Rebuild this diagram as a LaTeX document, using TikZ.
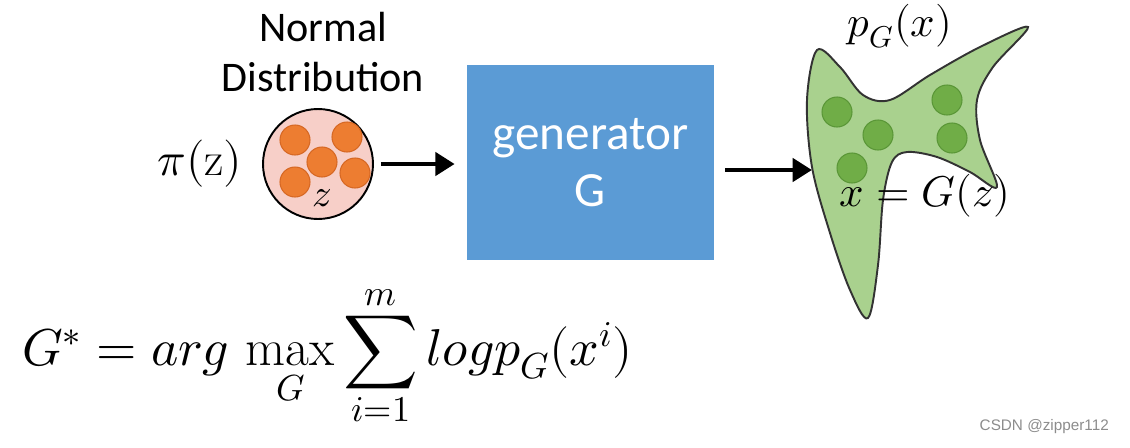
\documentclass[tikz,border=0pt]{standalone}
\usepackage{fontspec}
\usepackage{unicode-math}
\setmathfont{Latin Modern Math}
\newfontfamily\calib{Carlito}
\newfontfamily\wmfont{Liberation Sans}
\usetikzlibrary{arrows.meta}

\definecolor{pinkfill}{RGB}{247,207,200}
\definecolor{dotorange}{RGB}{237,125,49}
\definecolor{dotorangeedge}{RGB}{214,104,36}
\definecolor{genblue}{RGB}{91,155,213}
\definecolor{blobgreen}{RGB}{169,209,142}
\definecolor{dotgreen}{RGB}{112,173,71}
\definecolor{dotgreenedge}{RGB}{90,150,55}

\tikzset{
  bigarrow/.style={line width=2.8pt, -{Triangle[length=11pt,width=13pt]}},
  sanslabel/.style={font=\calib\fontsize{24}{28.5}\selectfont, align=center},
  mathlabel/.style={font=\fontsize{24.5}{28}\selectfont},
}

\begin{document}
\begin{tikzpicture}[x=0.02cm,y=-0.02cm]

		\useasboundingbox (0,0) rectangle (1130,447);

		% Noise source
		\node[sanslabel] (normal) at (323,52) {Normal\\Distribution};
		\node[circle, draw, line width=1.1pt, fill=pinkfill, minimum size=2.2cm] (noise) at (318,164) {};
		\foreach \x/\y in {295/140, 347/137, 322/162, 295/182, 355/173}
		  \draw[fill=dotorange, draw=dotorangeedge, line width=0.6pt] (\x,\y) circle (15);
		\node[font=\fontsize{22}{26}\selectfont] (zlabel) at (322,198) {$z$};
		\node[font=\fontsize{27}{30}\selectfont] (prior) at (200,164) {$\pi(\mathrm{z})$};

		% Generator
		\node[fill=genblue, minimum width=4.94cm, minimum height=3.9cm, text=white,
		      font=\calib\fontsize{28}{32.5}\selectfont, align=center] (gen) at (590.5,162.5) {generator\\G};

		% Output distribution
		\draw[fill=blobgreen, line width=1.1pt, draw=black!80]
		plot[smooth cycle, tension=0.55] coordinates {
		(817,50)
		(840,67)
		(863,95)
		(890,100)
		(930,75)
		(980,47)
		(1028,27)
		(993,67)
		(977,100)
		(980,140)
		(997,187)
		(970,172)
		(937,157)
		(907,152)
		(892,162)
		(883,200)
		(878,265)
		(868,318)
		(850,290)
		(830,233)
		(812,167)
		(807,100)
		};
		\foreach \x/\y in {837/112, 878/135, 852/168, 947/100, 952/138}
		  \draw[fill=dotgreen, draw=dotgreenedge, line width=0.6pt] (\x,\y) circle (15);
		\node[mathlabel] (pg) at (900,26) {$p_G(x)$};
		\node[mathlabel] (xout) at (925,196) {$x = G(z)$};
		\coordinate (blobin) at (812,170);

		% Arrows
		\draw[bigarrow, shorten <=4pt] (noise.east) -- ([xshift=-0.24cm]gen.west |- noise.east);
		\draw[bigarrow] ([xshift=0.22cm]gen.east |- blobin) -- (blobin);

		% Objective
		\node[font=\fontsize{29.5}{34}\selectfont, anchor=west] (objective) at (16,356)
		  {$\displaystyle G^* = arg\,\max_G \sum_{i=1}^m logp_G(x^i)$};

		% Watermark
		\node[font=\wmfont\fontsize{8.7}{10}\selectfont, text=black!45, anchor=east] (wm) at (1115,427) {CSDN @zipper112};

	\end{tikzpicture}
\end{document}
